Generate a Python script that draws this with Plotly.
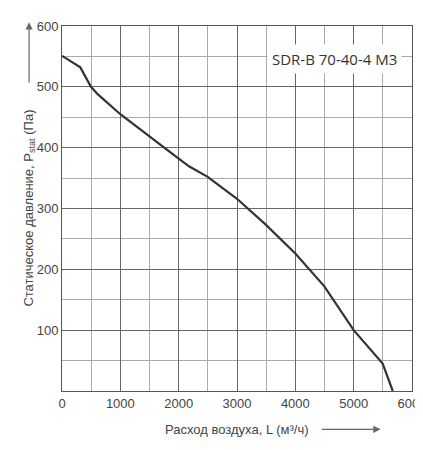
import plotly.graph_objects as go

# расход воздуха, м3/ч
L = [0, 314, 497, 611, 1000, 1497, 2000, 2183, 2497, 3000, 3497, 4000, 4326, 4497, 5000, 5497, 5670]
# статическое давление, Па
P = [551, 532, 500, 488, 455, 418, 382, 369, 352, 316, 273, 226, 191, 172, 100, 45, 0]

FONT = "Liberation Sans, Arial, sans-serif"

fig = go.Figure()
fig.add_trace(go.Scatter(x=L, y=P, mode="lines", line=dict(color="#333333", width=2.2), showlegend=False))

eixo = dict(showline=True, linecolor="#555555", linewidth=1, mirror=True, ticks="",
            gridcolor="#666666", gridwidth=1, zeroline=False, automargin=False,
            tickfont=dict(family=FONT, size=13, color="#444444"))
fig.update_xaxes(range=[0, 6000], dtick=1000, tick0=0,
                 minor=dict(dtick=500, showgrid=True, gridcolor="#aaaaaa", gridwidth=1), **eixo)
fig.update_yaxes(range=[0, 600], tickvals=[0, 100, 200, 300, 400, 500, 600],
                 ticktext=["", "100", "200", "300", "400", "500", "600"],
                 minor=dict(dtick=50, showgrid=True, gridcolor="#aaaaaa", gridwidth=1), **eixo)

fig.update_layout(
    width=423, height=450,
    template="plotly_white",
    plot_bgcolor="white", paper_bgcolor="white",
    margin=dict(l=54, r=19, t=18, b=67),
    annotations=[
        dict(x=0.97, y=0.91, xref="paper", yref="paper", xanchor="right", yanchor="middle",
             text="SDR-B 70-40-4 M3", showarrow=False, bgcolor="white", borderpad=4,
             font=dict(family="Open Sans, sans-serif", size=15, color="#333333")),
        dict(x=0.5, y=-0.105, xref="paper", yref="paper", xanchor="center", yanchor="middle",
             text="Расход воздуха, L (м³/ч)", showarrow=False,
             font=dict(family=FONT, size=13, color="#444444")),
        dict(x=0.91, y=-0.105, xref="paper", yref="paper", ax=-60, ay=0, text="", showarrow=True,
             arrowhead=2, arrowsize=1.2, arrowwidth=1.2, arrowcolor="#666666"),
        dict(x=-0.094, y=0.5, xref="paper", yref="paper", xanchor="center", yanchor="middle",
             text="Статическое давление, P<sub>stat</sub> (Па)", textangle=-90, showarrow=False,
             font=dict(family=FONT, size=13, color="#444444")),
        dict(x=-0.094, y=1.01, xref="paper", yref="paper", ax=0, ay=62, text="", showarrow=True,
             arrowhead=2, arrowsize=1.2, arrowwidth=1.2, arrowcolor="#666666"),
    ],
)

fig.write_html("out.html")
